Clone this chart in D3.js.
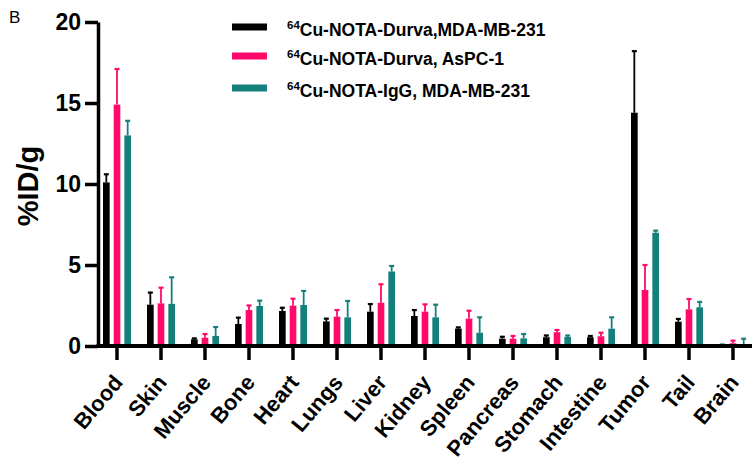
<!DOCTYPE html>
<html>
<head>
<meta charset="utf-8" />
<title>Biodistribution</title>
<script src="https://cdn.jsdelivr.net/npm/d3@7"></script>
<style>
  body { margin: 0; background: #fff; }
  svg { font-family: Arial, "Liberation Sans", sans-serif; }
</style>
</head>
<body>
<div id="chart"></div>
<script>
// organs on the x axis
var organs = ['Blood', 'Skin', 'Muscle', 'Bone', 'Heart', 'Lungs', 'Liver', 'Kidney',
  'Spleen', 'Pancreas', 'Stomach', 'Intestine', 'Tumor', 'Tail', 'Brain'];

var seriesNames = ['Cu-NOTA-Durva,MDA-MB-231', 'Cu-NOTA-Durva, AsPC-1', 'Cu-NOTA-IgG, MDA-MB-231'];
var seriesColors = ['#000000', '#ff0a6a', '#14807c'];

// mean %ID/g
var durvaMda = [10.1, 2.55, 0.41, 1.36, 2.16, 1.52, 2.12, 1.85, 1.07, 0.45, 0.54, 0.54, 14.4, 1.5, 0.05];
var durvaAspc = [14.9, 2.63, 0.51, 2.22, 2.49, 1.81, 2.67, 2.12, 1.69, 0.45, 0.85, 0.6, 3.46, 2.26, 0.17];
var iggMda = [13.0, 2.6, 0.62, 2.47, 2.53, 1.77, 4.6, 1.77, 0.82, 0.47, 0.56, 1.07, 6.99, 2.39, 0.1];
// top of error bars
var durvaMdaErr = [10.6, 3.3, 0.47, 1.75, 2.36, 1.69, 2.59, 2.22, 1.15, 0.57, 0.65, 0.62, 18.2, 1.67, 0.08];
var durvaAspcErr = [17.1, 3.6, 0.74, 2.5, 2.92, 2.22, 3.81, 2.57, 2.18, 0.62, 0.99, 0.82, 5.0, 2.9, 0.33];
var iggMdaErr = [13.9, 4.24, 1.17, 2.8, 3.4, 2.78, 4.94, 2.55, 1.77, 0.74, 0.65, 1.77, 7.12, 2.72, 0.45];

var yTicks = [0, 5, 10, 15, 20];

var means = [durvaMda, durvaAspc, iggMda];
var errs = [durvaMdaErr, durvaAspcErr, iggMdaErr];

var width = 752, height = 462;
var svg = d3.select('#chart').append('svg')
  .attr('width', width)
  .attr('height', height);

var x = d3.scaleBand().domain(organs).range([95, 755]);
var xSub = d3.scaleBand().domain([0, 1, 2]).range([-18, 18]).padding(0.375);
var y = d3.scaleLinear().domain([0, 20]).range([346, 22]);

// bars + error bars
for (var s = 0; s < 3; s++) {
  var g = svg.append('g');
  var data = organs.map(function (o, i) { return { organ: o, v: means[s][i], e: errs[s][i] }; });
  var cx = function (d) { return x(d.organ) + x.bandwidth() / 2 + xSub(s) + xSub.bandwidth() / 2; };

  g.selectAll('line.err').data(data).enter().append('line')
    .attr('x1', cx).attr('x2', cx)
    .attr('y1', function (d) { return y(d.v); })
    .attr('y2', function (d) { return y(d.e); })
    .attr('stroke', seriesColors[s])
    .attr('stroke-width', 1.8);
  g.selectAll('line.cap').data(data).enter().append('line')
    .attr('x1', function (d) { return cx(d) - 2.5; })
    .attr('x2', function (d) { return cx(d) + 2.5; })
    .attr('y1', function (d) { return y(d.e); })
    .attr('y2', function (d) { return y(d.e); })
    .attr('stroke', seriesColors[s])
    .attr('stroke-width', 2.2);
  g.selectAll('rect').data(data).enter().append('rect')
    .attr('x', function (d) { return cx(d) - xSub.bandwidth() / 2; })
    .attr('width', xSub.bandwidth())
    .attr('y', function (d) { return y(d.v); })
    .attr('height', function (d) { return y(0) - y(d.v); })
    .attr('fill', seriesColors[s]);
}

// y axis
var yAxis = svg.append('g')
  .attr('transform', 'translate(98,0)')
  .call(d3.axisLeft(y).tickValues(yTicks).tickSize(13).tickPadding(4).tickSizeOuter(0));
yAxis.select('.domain').attr('stroke-width', 3.5);
yAxis.selectAll('.tick line').attr('stroke-width', 3.5);
yAxis.selectAll('.tick text')
  .attr('font-size', 23).attr('font-weight', 'bold').attr('fill', '#000')
  .attr('font-family', 'Arial, "Liberation Sans", sans-serif');

// x axis
var xAxis = svg.append('g')
  .attr('transform', 'translate(0,346)')
  .call(d3.axisBottom(x).tickSize(14).tickSizeOuter(0).tickFormat(''));
xAxis.select('.domain').attr('d', 'M96.5,0H752').attr('stroke-width', 4);
xAxis.selectAll('.tick line').attr('stroke-width', 3.5);

svg.append('g').selectAll('text').data(organs).enter().append('text')
  .attr('transform', function (d) {
    return 'translate(' + (x(d) + x.bandwidth() / 2 + 7) + ',383) rotate(-50)';
  })
  .attr('text-anchor', 'end')
  .attr('font-size', 22)
  .attr('font-weight', 'bold')
  .text(function (d) { return d; });

// y title
svg.append('text')
  .attr('transform', 'translate(38,186) rotate(-90)')
  .attr('text-anchor', 'middle')
  .attr('font-size', 29)
  .attr('font-weight', 'bold')
  .text('%ID/g');

// panel letter
svg.append('text')
  .attr('x', 9).attr('y', 23)
  .attr('font-size', 17)
  .text('B');

// legend
var legendY = [27, 56, 88];
var leg = svg.append('g').selectAll('g').data(seriesNames).enter().append('g')
  .attr('transform', function (d, i) { return 'translate(232,' + legendY[i] + ')'; });
leg.append('rect')
  .attr('x', 0).attr('y', -3.5)
  .attr('width', 35).attr('height', 7)
  .attr('fill', function (d, i) { return seriesColors[i]; });
var lt = leg.append('text')
  .attr('x', 55).attr('y', 9)
  .attr('font-size', 17.5)
  .attr('font-weight', 'bold');
lt.append('tspan').attr('font-size', 11.5).attr('dy', -7).text('64');
lt.append('tspan').attr('dy', 7).text(function (d) { return d; });
</script>
</body>
</html>
